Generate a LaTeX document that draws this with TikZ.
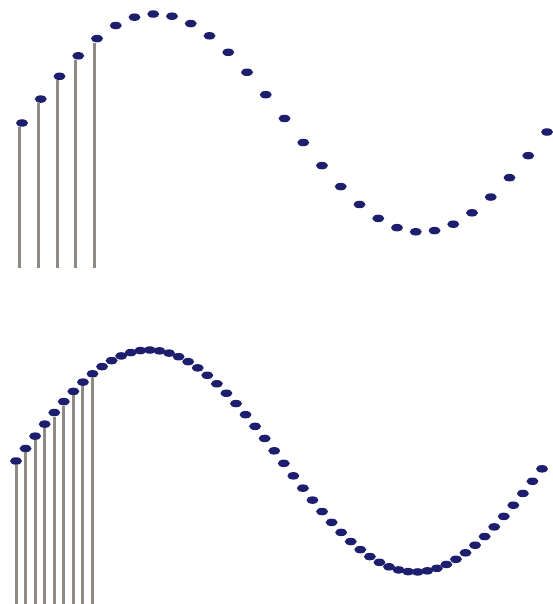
\documentclass[tikz,border=0pt]{standalone}
\usepackage{tikz}
\usetikzlibrary{shapes.geometric}
\definecolor{dotnavy}{HTML}{1E1E6E}
\definecolor{stemgrey}{HTML}{908A85}

\begin{document}
\begin{tikzpicture}[x=1pt, y=-1pt,
  sample/.style={ellipse, fill=dotnavy, inner sep=0pt,
    minimum width=12pt, minimum height=7.5pt},
  stem/.style={draw=stemgrey, line width=3pt}]
  \useasboundingbox (0,0) rectangle (553,604);

  % coarse sampling
  \foreach \i in {0,...,28}{
    \pgfmathsetmacro{\px}{22+18.75*\i}
    \pgfmathsetmacro{\py}{123-109*sin((\px-22)/532*360)}
    \node[sample] (top\i) at (\px,\py) {};
  }
  \foreach \i in {0,...,4}{
    \pgfmathsetmacro{\px}{22+18.75*\i-2.5}
    \coordinate (topfoot\i) at (\px,268);
    \draw[stem] ([xshift=-2.5pt]top\i.south) -- (topfoot\i);
  }

  % fine sampling
  \foreach \i in {0,...,55}{
    \pgfmathsetmacro{\px}{16+9.564*\i}
    \pgfmathsetmacro{\py}{461-111*sin((\px-16)/532*360)}
    \node[sample] (bot\i) at (\px,\py) {};
  }
  \foreach \i in {0,...,8}{
    \pgfmathsetmacro{\px}{16+9.564*\i}
    \coordinate (botfoot\i) at (\px,604);
    \draw[stem] (bot\i.south) -- (botfoot\i);
  }
\end{tikzpicture}
\end{document}
